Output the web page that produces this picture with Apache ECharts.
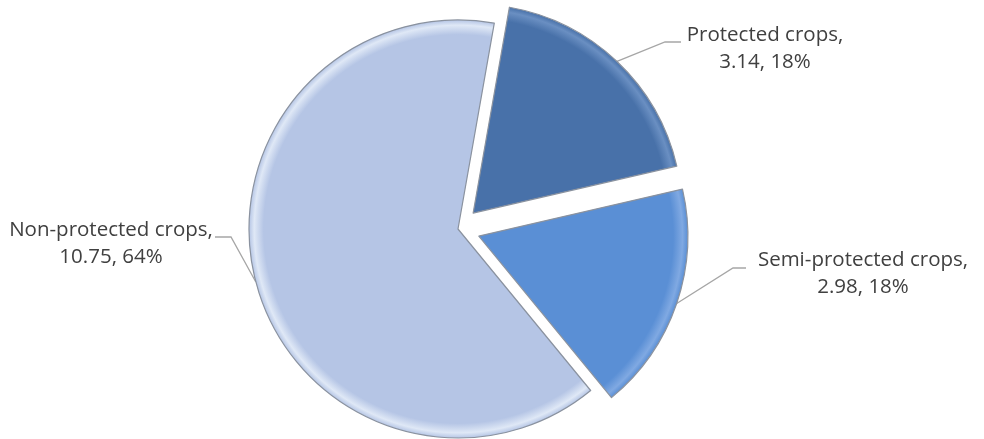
<!DOCTYPE html>
<html>
<head>
<meta charset="utf-8">
<script src="https://cdn.jsdelivr.net/npm/echarts@6/dist/echarts.min.js"></script>
<style>html,body{margin:0;padding:0;background:#fff}#c{width:984px;height:439px}</style>
</head>
<body>
<div id="c"></div>
<script>
const categories = ['Protected crops', 'Semi-protected crops', 'Non-protected crops'];
const values = [3.14, 2.98, 10.75];
const exploded = [true, true, false];

const baseColors = ['#4871a9', '#5a8fd5', '#b5c5e5'];
const rimColors = ['#6a8fc2', '#80a9e2', '#dfe8f6'];

const CX = 458, CY = 229, R = 209, START = 80, OFFSET = 22;
const chart = echarts.init(document.getElementById('c'), null, {renderer: 'canvas'});

function grad(i) {
  return {
    type: 'radial', x: CX, y: CY, r: R, global: true,
    colorStops: [
      {offset: 0, color: baseColors[i]},
      {offset: 0.93, color: baseColors[i]},
      {offset: 0.975, color: rimColors[i]},
      {offset: 1, color: baseColors[i]}
    ]
  };
}

// explosion offset vector of each slice (from the data's angles)
const total = values.reduce((a, b) => a + b, 0);
let cum = 0;
const shift = values.map((v, i) => {
  const mid = (START - (cum + v / 2) / total * 360) * Math.PI / 180;
  cum += v;
  return exploded[i] ? [Math.cos(mid) * OFFSET, -Math.sin(mid) * OFFSET] : [0, 0];
});

// label placement (centre x, top y) and elbow of leader line
const labelPlace = [
  {x: 765, y: 22, elbow: [665, 42], end: [681, 42]},
  {x: 863, y: 247, elbow: [733, 268], end: [746, 268]},
  {x: 111, y: 217, elbow: [231, 237], end: [215, 237]}
];

const pieData = categories.map((name, i) => ({
  name: name,
  value: values[i],
  selected: exploded[i],
  itemStyle: {color: grad(i)}
}));

const labelData = categories.map((name, i) => ({name: name, value: values[i]}));

chart.setOption({
  animation: false,
  series: [{
    type: 'pie',
    center: [CX, CY],
    radius: [0, R],
    startAngle: START,
    clockwise: true,
    selectedMode: 'multiple',
    selectedOffset: OFFSET,
    silent: true,
    emphasis: {disabled: true},
    itemStyle: {borderColor: '#8a929f', borderWidth: 1.2},
    label: {show: false},
    labelLine: {show: false},
    data: pieData
  }, {
    type: 'pie',
    center: [CX, CY],
    radius: [0, R],
    startAngle: START,
    clockwise: true,
    silent: true,
    percentPrecision: 0,
    avoidLabelOverlap: false,
    emphasis: {disabled: true},
    itemStyle: {color: 'rgba(0,0,0,0)', borderWidth: 0},
    label: {
      show: true,
      position: 'outside',
      formatter: '{b},\n{c}, {d}%',
      fontFamily: '"Open Sans", sans-serif',
      fontSize: 20.5,
      lineHeight: 27,
      color: '#404040',
      align: 'center'
    },
    labelLine: {show: true, length: 20, length2: 15, lineStyle: {color: '#a6a6a6', width: 1.3}},
    labelLayout: function (p) {
      const i = p.dataIndex;
      const L = labelPlace[i];
      const s = p.labelLinePoints ? p.labelLinePoints[0] : L.elbow;
      const start = [s[0] + shift[i][0], s[1] + shift[i][1]];
      return {
        x: L.x, y: L.y, align: 'center', verticalAlign: 'top',
        labelLinePoints: [start, L.elbow, L.end]
      };
    },
    data: labelData
  }]
});
</script>
</body>
</html>
